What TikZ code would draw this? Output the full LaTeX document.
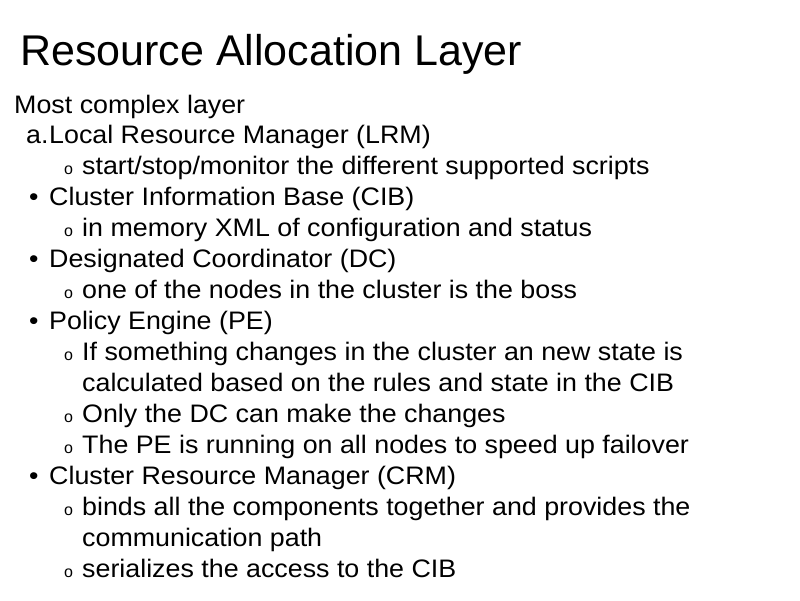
\documentclass[tikz,border=0pt]{standalone}
\usepackage{fontspec}
\setmainfont{Liberation Sans}
\begin{document}
\begin{tikzpicture}[x=1pt,y=-1pt,
  txt/.style={anchor=base west,inner sep=0pt,xscale=1.06,font=\fontsize{25.3}{25}\selectfont},
  sub/.style={anchor=base west,inner sep=0pt,font=\fontsize{16}{16}\selectfont}]
\useasboundingbox[fill=white] (0,0) rectangle (800,600);
\node[anchor=base west,inner sep=0pt,font=\fontsize{43}{43}\selectfont] (title) at (20,65) {Resource Allocation Layer};
\def\L#1{\fpeval{113+30.95*#1}}
\node[txt] (l0) at (14,113) {Most complex layer};
\node[txt] (l1a) at (26,{\L{1}}) {a.};
\node[txt] (l1) at (49,{\L{1}}) {Local Resource Manager (LRM)};
\node[sub] (o2) at (64,{\L{2}}) {o};
\node[txt] (l2) at (82,{\L{2}}) {start/stop/monitor the different supported scripts};
\node[txt] (b3) at (29,{\L{3}}) {•};
\node[txt] (l3) at (49,{\L{3}}) {Cluster Information Base (CIB)};
\node[sub] (o4) at (64,{\L{4}}) {o};
\node[txt] (l4) at (82,{\L{4}}) {in memory XML of configuration and status};
\node[txt] (b5) at (29,{\L{5}}) {•};
\node[txt] (l5) at (49,{\L{5}}) {Designated Coordinator (DC)};
\node[sub] (o6) at (64,{\L{6}}) {o};
\node[txt] (l6) at (82,{\L{6}}) {one of the nodes in the cluster is the boss};
\node[txt] (b7) at (29,{\L{7}}) {•};
\node[txt] (l7) at (49,{\L{7}}) {Policy Engine (PE)};
\node[sub] (o8) at (64,{\L{8}}) {o};
\node[txt] (l8) at (82,{\L{8}}) {If something changes in the cluster an new state is};
\node[txt] (l9) at (82,{\L{9}}) {calculated based on the rules and state in the CIB};
\node[sub] (o10) at (64,{\L{10}}) {o};
\node[txt] (l10) at (82,{\L{10}}) {Only the DC can make the changes};
\node[sub] (o11) at (64,{\L{11}}) {o};
\node[txt] (l11) at (82,{\L{11}}) {The PE is running on all nodes to speed up failover};
\node[txt] (b12) at (29,{\L{12}}) {•};
\node[txt] (l12) at (49,{\L{12}}) {Cluster Resource Manager (CRM)};
\node[sub] (o13) at (64,{\L{13}}) {o};
\node[txt] (l13) at (82,{\L{13}}) {binds all the components together and provides the};
\node[txt] (l14) at (82,{\L{14}}) {communication path};
\node[sub] (o15) at (64,{\L{15}}) {o};
\node[txt] (l15) at (82,{\L{15}}) {serializes the access to the CIB};
\end{tikzpicture}
\end{document}
